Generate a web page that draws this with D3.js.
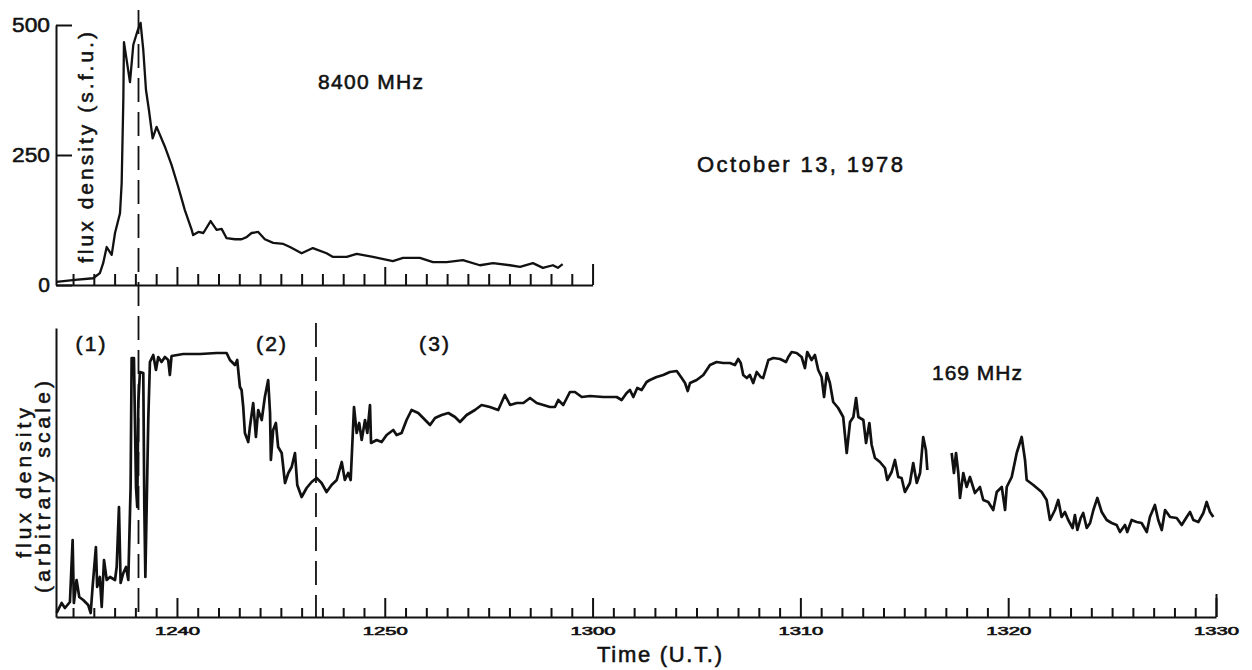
<!DOCTYPE html>
<html>
<head>
<meta charset="utf-8">
<script src="https://cdn.jsdelivr.net/npm/d3@7"></script>
<style>
  html, body { margin: 0; background: #fff; }
  svg { display: block; }
</style>
</head>
<body>
<svg id="chart" width="1252" height="670"></svg>
<script>
// 8400 MHz flux density in s.f.u.: [minutes after 12:00 UT, value]
const flux8400 = [
  [34.21,6],[35.09,10],[35.97,13],[36.29,23],[36.45,42],[36.62,73],[36.86,58],[37.02,100],
  [37.26,138],[37.34,196],[37.42,356],[37.45,467],[37.74,390],[37.90,462],[38.09,487],[38.25,504],
  [38.38,452],[38.51,375],[38.65,337],[38.83,282],[39.02,304],[39.42,266],[39.74,231],[40.06,189],
  [40.38,144],[40.71,106],[40.78,96],[41.03,102],[41.27,100],[41.62,123],[41.91,106],[42.15,108],
  [42.39,90],[42.79,88],[43.11,88],[43.35,92],[43.59,100],[43.91,102],[44.23,88],[44.63,81],
  [45.12,79],[45.44,73],[46.00,61],[46.54,71],[47.20,61],[47.51,54],[48.17,54],[48.65,60],
  [49.43,54],[50.39,46],[50.88,52],[51.69,52],[52.32,44],[52.98,44],[53.76,48],[54.58,38],
  [55.21,42],[56.03,38],[56.51,35],[57.13,42],[57.61,33],[58.09,38],[58.33,33],[58.56,40]
];

// 169 MHz flux density, arbitrary units: first stretch, up to the recording gap
const flux169a = [
  [34.21,4],[34.45,14],[34.61,9],[34.85,15],[34.98,77],[35.04,14],[35.17,37],[35.30,20],
  [35.49,17],[35.73,12],[35.85,4],[35.94,30],[36.10,70],[36.16,30],[36.29,40],[36.38,10],
  [36.49,57],[36.62,37],[36.78,40],[37.02,37],[37.10,50],[37.21,110],[37.29,34],[37.42,44],
  [37.55,50],[37.66,37],[37.77,130],[37.82,259],[37.93,259],[38.03,130],[38.09,110],[38.14,214],
  [38.22,245],[38.38,244],[38.43,110],[38.48,40],[38.62,197],[38.70,255],[38.86,262],[38.99,247],
  [39.10,260],[39.26,255],[39.42,260],[39.58,257],[39.66,242],[39.74,261],[40.30,263],[41.11,263],
  [41.91,264],[42.39,264],[42.55,257],[42.79,252],[42.90,257],[43.03,230],[43.11,227],[43.19,210],
  [43.27,184],[43.43,175],[43.51,190],[43.67,214],[43.80,180],[43.91,207],[44.08,197],[44.23,220],
  [44.39,237],[44.48,204],[44.52,157],[44.63,187],[44.76,194],[44.87,170],[45.04,164],[45.20,134],
  [45.36,144],[45.52,150],[45.68,164],[45.79,132],[46.00,120],[46.24,129],[46.48,135],[46.72,139],
  [46.96,134],[47.20,125],[47.44,132],[47.69,137],[47.93,155],[48.08,137],[48.24,144],[48.36,137],
  [48.52,210],[48.65,184],[48.77,194],[48.89,177],[49.05,197],[49.16,184],[49.29,212],[49.34,174],
  [49.61,177],[49.85,175],[50.09,182],[50.41,187],[50.57,182],[50.81,184],[51.05,197],[51.29,207],
  [51.61,204],[51.85,199],[52.18,192],[52.42,199],[52.74,202],[53.06,204],[53.38,200],[53.62,195],
  [53.94,202],[54.34,207],[54.66,212],[55.06,210],[55.46,207],[55.78,222],[56.03,212],[56.35,214],
  [56.67,214],[56.99,219],[57.31,214],[57.63,212],[57.95,210],[58.19,210],[58.35,217],[58.59,212],
  [58.91,225],[59.15,225],[59.48,220],[59.88,221],[60.52,220],[61.16,220],[61.40,217],[61.64,224],
  [61.80,227],[61.96,220],[62.15,229],[62.36,227],[62.60,235],[62.76,237],[63.08,240],[63.40,242],
  [63.72,245],[64.05,246],[64.29,239],[64.45,234],[64.58,226],[64.69,234],[65.01,237],[65.33,242],
  [65.65,252],[65.97,255],[66.29,254],[66.61,254],[66.85,252],[67.01,258],[67.13,254],[67.25,242],
  [67.42,239],[67.57,242],[67.73,234],[67.90,245],[68.09,240],[68.21,239],[68.46,257],[68.70,259],
  [69.02,258],[69.31,255],[69.42,260],[69.58,265],[69.82,264],[70.06,260],[70.22,249],[70.33,265],
  [70.54,257],[70.70,262],[70.86,247],[71.02,240],[71.14,220],[71.27,244],[71.42,234],[71.58,215],
  [71.82,209],[72.06,200],[72.23,164],[72.39,195],[72.55,200],[72.68,219],[72.79,200],[73.03,197],
  [73.16,174],[73.32,194],[73.43,172],[73.59,159],[73.83,155],[74.07,149],[74.18,137],[74.39,145],
  [74.55,157],[74.71,140],[74.87,139],[75.03,125],[75.27,134],[75.43,154],[75.60,134],[75.76,144],
  [75.91,180],[76.04,167],[76.11,147]
];

// 169 MHz flux density, arbitrary units: second stretch, after the gap
const flux169b = [
  [77.28,164],[77.39,144],[77.49,164],[77.60,144],[77.68,119],[77.84,144],[78.00,130],[78.16,140],
  [78.40,124],[78.64,130],[78.80,117],[79.04,115],[79.28,107],[79.45,125],[79.69,130],[79.85,107],
  [79.93,130],[80.17,140],[80.41,164],[80.65,180],[80.81,157],[80.89,137],[81.21,132],[81.61,125],
  [81.85,117],[82.01,97],[82.25,107],[82.41,117],[82.57,100],[82.73,105],[82.89,97],[83.10,89],
  [83.21,102],[83.33,87],[83.49,99],[83.61,104],[83.78,89],[83.94,94],[84.10,107],[84.29,119],
  [84.50,105],[84.74,97],[84.98,94],[85.22,92],[85.38,85],[85.62,92],[85.73,85],[85.94,97],
  [86.18,95],[86.42,94],[86.67,85],[86.82,100],[87.06,112],[87.22,97],[87.39,87],[87.55,107],
  [87.79,100],[88.11,99],[88.35,92],[88.59,100],[88.75,105],[88.91,97],[89.15,95],[89.39,104],
  [89.55,115],[89.71,105],[89.87,100]
];

// Phase boundaries (minutes after 12:00 UT)
const eventTimes = [38.15, 46.69];

// Time axis
const majorMinutes = [40, 50, 60, 70, 80, 90];
const timeLabels = ["1240", "1250", "1300", "1310", "1320", "1330"];

// 8400 MHz flux axis
const fluxTicks = [0, 250, 500];
const fluxTickLabels = ["0", "250", "500"];

// Phase names
const phaseNames = ["(1)", "(2)", "(3)"];

const FONT = "'Liberation Sans', Arial, Helvetica, sans-serif";
const INK = "#111";
const svg = d3.select("#chart");

svg.append("rect").attr("width", 1252).attr("height", 670).attr("fill", "#fff");

// Scales
const x = d3.scaleLinear().domain([34.18, 90]).range([56, 1216]);
const xTop = x.copy().domain([34.18, 60]).range([56, x(60)]);
const yTop = d3.scaleLinear().domain([0, 500]).range([285, 25]);
const yBot = d3.scaleLinear().domain([0, 289]).range([617, 328]);

function inkAxis(g, w) {
  g.selectAll("path, line").attr("stroke", INK).attr("stroke-width", w);
  g.attr("font-family", FONT).attr("font-size", 21);
  g.selectAll("text").attr("fill", INK)
    .attr("stroke", INK).attr("stroke-width", 0.55).attr("paint-order", "stroke");
}

// ---- Upper panel (8400 MHz) ----
const topMinor = d3.range(35, 60).filter(m => m % 10 !== 0);
const gTopX = svg.append("g").attr("transform", "translate(0,285)");
gTopX.call(d3.axisBottom(xTop).tickValues(topMinor).tickSize(-11).tickSizeOuter(0).tickFormat(""));
gTopX.append("g").call(d3.axisBottom(xTop).tickValues([40, 50]).tickSize(-18).tickSizeOuter(0).tickFormat(""))
  .select(".domain").remove();
gTopX.append("g").call(d3.axisBottom(xTop).tickValues([60]).tickSize(-21).tickSizeOuter(0).tickFormat(""))
  .select(".domain").remove();
inkAxis(gTopX, 2);

const gTopY = svg.append("g").attr("transform", "translate(56,0)");
gTopY.call(d3.axisLeft(yTop).tickValues(fluxTicks).tickSize(-16).tickSizeOuter(0).tickPadding(6)
  .tickFormat((d, i) => fluxTickLabels[i]));
inkAxis(gTopY, 2);
gTopY.selectAll("text").attr("textLength", d => d === 0 ? null : 38).attr("lengthAdjust", "spacingAndGlyphs");

svg.append("path")
  .datum(flux8400)
  .attr("fill", "none").attr("stroke", INK).attr("stroke-width", 2.3)
  .attr("stroke-linejoin", "round")
  .attr("d", d3.line().x(d => x(d[0])).y(d => yTop(d[1])));

// ---- Lower panel (169 MHz) ----
const botMinor = d3.range(35, 90).filter(m => m % 10 !== 0);
const gBotX = svg.append("g").attr("transform", "translate(0,617)");
gBotX.call(d3.axisBottom(x).tickValues(botMinor).tickSize(-9).tickSizeOuter(0).tickFormat(""));
gBotX.append("g").call(d3.axisBottom(x).tickValues(majorMinutes).tickSize(-19).tickSizeOuter(0)
  .tickPadding(11).tickFormat((d, i) => timeLabels[i]))
  .select(".domain").remove();
gBotX.append("g").call(d3.axisBottom(x).tickValues([90]).tickSize(-23).tickSizeOuter(0).tickFormat(""))
  .select(".domain").remove();
inkAxis(gBotX, 2);
gBotX.selectAll("text").attr("textLength", 45).attr("lengthAdjust", "spacingAndGlyphs");

const gBotY = svg.append("g").attr("transform", "translate(56,0)");
gBotY.call(d3.axisLeft(yBot).tickValues([]).tickSizeOuter(0));
inkAxis(gBotY, 2);

const lowLine = d3.line().x(d => x(d[0])).y(d => yBot(d[1]));
[flux169a, flux169b].forEach(seg => {
  svg.append("path")
    .datum(seg)
    .attr("fill", "none").attr("stroke", INK).attr("stroke-width", 2.7)
    .attr("stroke-linejoin", "round")
    .attr("d", lowLine);
});

// Dashed phase boundaries
const spans = [[10, 620], [323, 617]];
eventTimes.forEach((t, i) => {
  svg.append("line")
    .attr("x1", x(t)).attr("x2", x(t))
    .attr("y1", spans[i][0]).attr("y2", spans[i][1])
    .attr("stroke", INK).attr("stroke-width", 1.8)
    .attr("stroke-dasharray", "24,10");
});

// ---- Text ----
function label(txt, px, py, len, anchor = "start", rot = 0, size = 21) {
  const t = svg.append("text")
    .attr("transform", `translate(${px},${py})` + (rot ? ` rotate(${rot})` : ""))
    .attr("font-family", FONT).attr("font-size", size).attr("fill", INK)
    .attr("stroke", INK).attr("stroke-width", 0.55).attr("paint-order", "stroke")
    .attr("text-anchor", anchor)
    .text(txt);
  if (len) t.attr("textLength", len).attr("lengthAdjust", "spacing");
  return t;
}

label("8400 MHz", 318, 89, 105);
label("October 13, 1978", 697, 172, 206, "start", 0, 22);
label("169 MHz", 932, 380, 90);
label("Time (U.T.)", 597, 662, 125, "start", 0, 22);

const phaseX = [90.5, 271, 434];
phaseNames.forEach((p, i) => label(p, phaseX[i], 351, 30, "middle"));

label("flux density (s.f.u.)", 93, 147.5, 231, "middle", -90);
label("flux density", 31, 483, 150, "middle", -90);
label("(arbitrary scale)", 50, 487, 212, "middle", -90);
</script>
</body>
</html>
